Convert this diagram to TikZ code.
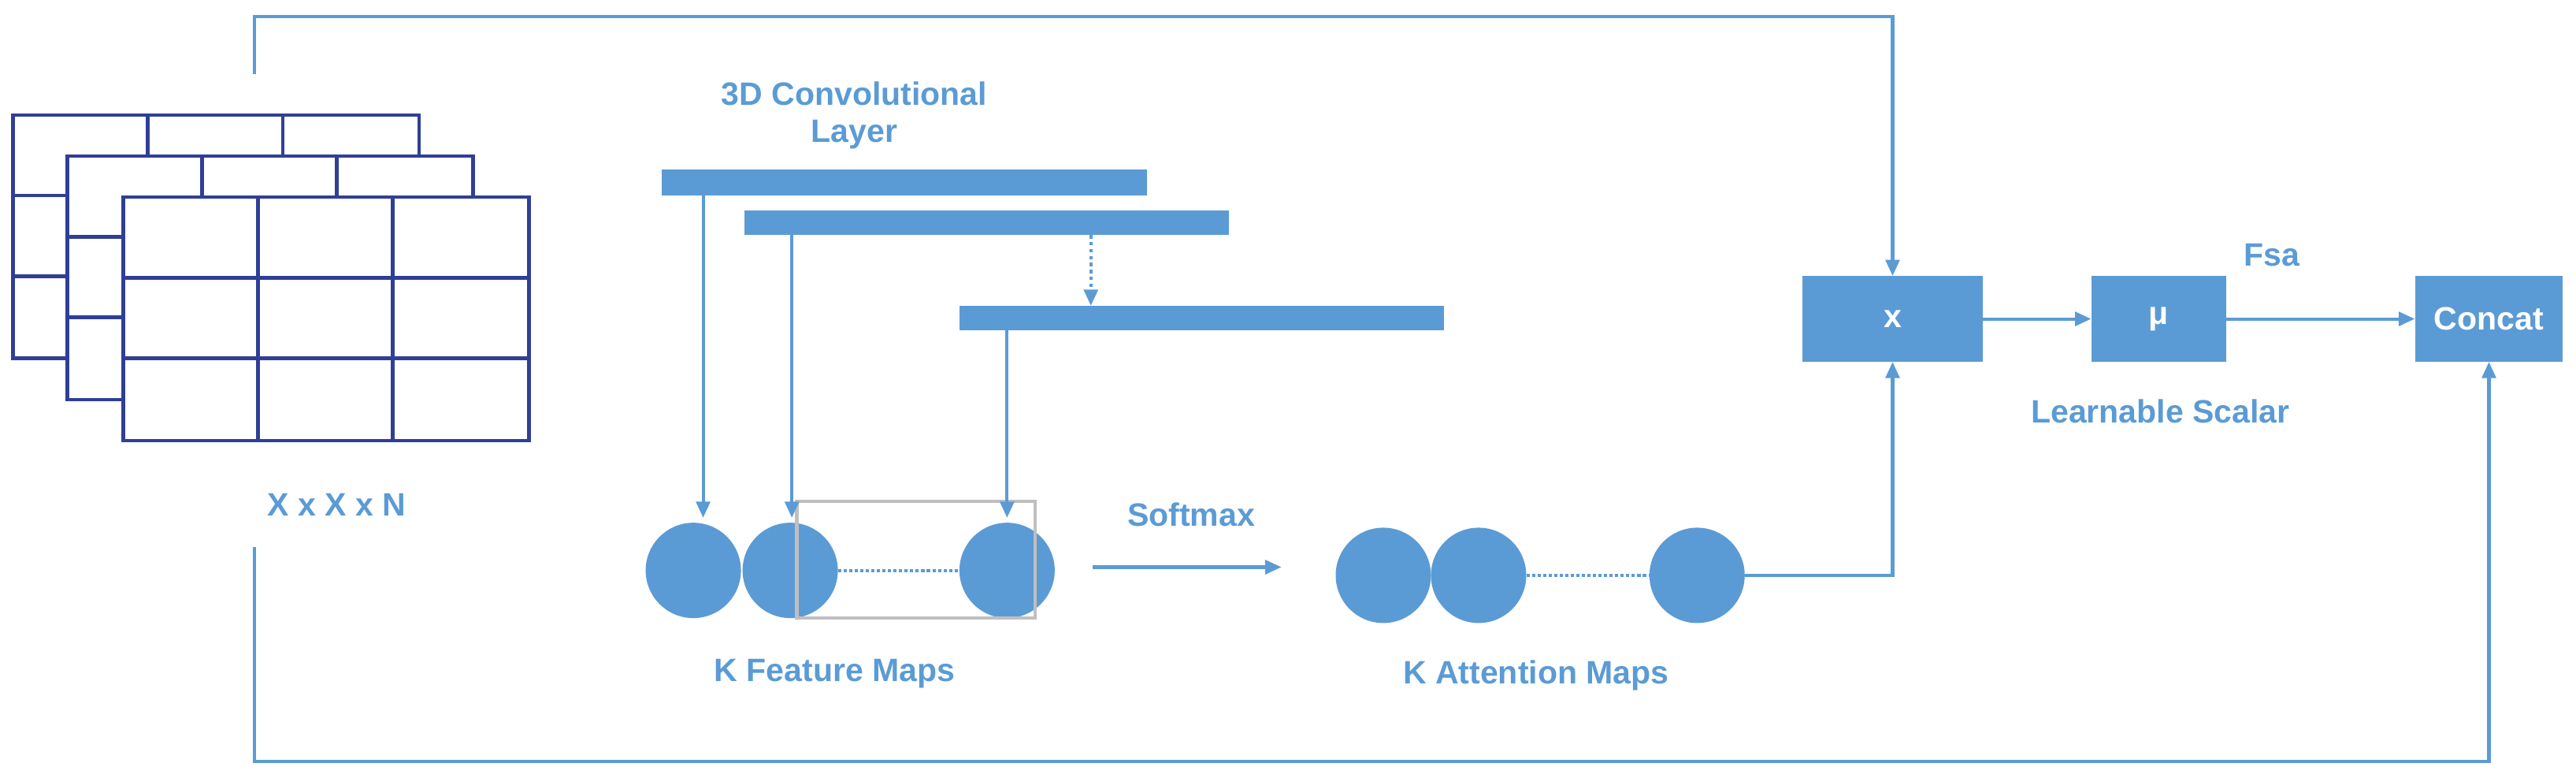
\documentclass[tikz,border=0pt]{standalone}
\usepackage{fontspec}
\setmainfont{Liberation Sans}
\usetikzlibrary{arrows.meta}
\definecolor{bl}{HTML}{5B9BD5}
\definecolor{gd}{HTML}{2F3F97}
\begin{document}
\begin{tikzpicture}[x=0.05cm,y=-0.05cm,
  ln/.style={draw=bl,line width=2.8pt},
  ar/.style={ln,-{Triangle[length=14pt,width=12pt]}},
  lab/.style={text=bl,font=\bfseries\fontsize{28}{32}\selectfont,align=center},
  circ/.style={circle,fill=bl,minimum size=2.9cm,inner sep=0pt},
  box/.style={fill=bl,text=white,font=\bfseries\fontsize{28}{32}\selectfont,inner sep=0pt}]
\useasboundingbox (0,0) rectangle (1568,473);
\foreach \ox/\oy in {8/70,41/95,75/120}{
  \draw[gd,line width=3pt,fill=white] (\ox,\oy) rectangle ++(247,148);
  \draw[gd,line width=3pt] (\ox+82,\oy) -- ++(0,148) (\ox+164,\oy) -- ++(0,148)
     (\ox,\oy+49) -- ++(247,0) (\ox,\oy+98) -- ++(247,0);
}
\node[lab] (xn) at (205,307) {X x X x N};
\node[lab] (conv) at (520,70) {3D Convolutional\\Layer};
\fill[bl] (403,103) rectangle (698,119);
\fill[bl] (453,128) rectangle (748,143);
\fill[bl] (584,186) rectangle (879,201);
\node[circ] (f1) at (422,347) {};
\node[circ] (f2) at (481,347) {};
\node[circ] (f3) at (613,347) {};
\draw[ln,dotted] (f2.east) -- (f3.west);
\draw[gray!50,line width=3pt] (485,305) rectangle (630,376);
\coordinate (b1) at (428,119); \coordinate (b2) at (482,143);
\coordinate (b2d) at (664,143); \coordinate (b3t) at (664,186); \coordinate (b3) at (613,201);
\draw[ar] (b1) -- (428,315);
\draw[ar] (b2) -- (482,315);
\draw[ar,dashed] (b2d) -- (b3t);
\draw[ar] (b3) -- (613,315);
\node[lab] (kf) at (508,410) {K Feature Maps};
\coordinate (s1) at (665,345); \coordinate (s2) at (780,345);
\draw[ar] (s1) -- (s2);
\node[lab] (sm) at (725,313) {Softmax};
\node[circ] (a1) at (842,350) {};
\node[circ] (a2) at (900,350) {};
\node[circ] (a3) at (1033,350) {};
\draw[ln,dotted] (a2.east) -- (a3.west);
\node[lab] (ka) at (935,411) {K Attention Maps};
\node[box,minimum width=5.5cm,minimum height=2.6cm] (x) at (1152,194) {x};
\node[box,minimum width=4.1cm,minimum height=2.6cm] (mu) at (1314,194) {μ};
\node[box,minimum width=4.5cm,minimum height=2.6cm] (cc) at (1515,194) {Concat};
\draw[ar] (a3.east) -| (x.south);
\draw[ar] (x.east) -- (mu.west);
\draw[ar] (mu.east) -- (cc.west);
\node[lab] (fsa) at (1383,155) {Fsa};
\node[lab] (ls) at (1315,250) {Learnable Scalar};
\coordinate (t0) at (155,45); \coordinate (u0) at (155,333);
\draw[ar] (t0) -- (155,10) -| (x.north);
\draw[ar] (u0) -- (155,463) -| (cc.south);
\end{tikzpicture}
\end{document}
